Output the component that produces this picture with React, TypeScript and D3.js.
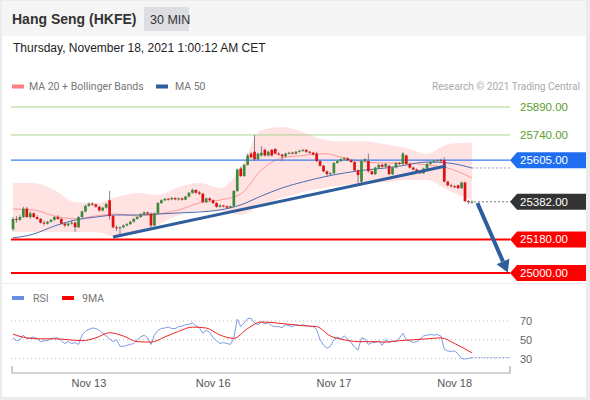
import React from "react";
import * as d3 from "d3";

// [open, high, low, close], 30 min bars
const candles: number[][] = [
  [25235, 25300, 25225, 25290],
  [25290, 25305, 25270, 25285],
  [25285, 25310, 25280, 25300],
  [25300, 25355, 25295, 25345],
  [25345, 25355, 25295, 25300],
  [25300, 25330, 25290, 25320],
  [25320, 25325, 25295, 25300],
  [25300, 25310, 25285, 25290],
  [25290, 25295, 25265, 25270],
  [25270, 25280, 25255, 25265],
  [25265, 25280, 25260, 25275],
  [25275, 25290, 25270, 25285],
  [25285, 25305, 25280, 25300],
  [25300, 25310, 25285, 25290],
  [25290, 25295, 25260, 25265],
  [25265, 25270, 25245, 25255],
  [25255, 25270, 25250, 25265],
  [25265, 25280, 25260, 25270],
  [25270, 25275, 25220, 25245],
  [25245, 25305, 25240, 25300],
  [25300, 25335, 25295, 25330],
  [25330, 25365, 25325, 25360],
  [25360, 25378, 25355, 25372],
  [25372, 25380, 25360, 25368],
  [25368, 25372, 25350, 25355],
  [25355, 25360, 25330, 25335],
  [25335, 25355, 25330, 25350],
  [25350, 25375, 25345, 25370],
  [25390, 25440, 25285, 25305],
  [25305, 25310, 25240, 25245],
  [25245, 25255, 25225, 25240],
  [25240, 25250, 25195, 25245],
  [25245, 25260, 25240, 25255],
  [25255, 25268, 25250, 25262],
  [25262, 25280, 25258, 25275],
  [25275, 25295, 25270, 25290],
  [25290, 25305, 25285, 25300],
  [25300, 25320, 25295, 25315],
  [25315, 25330, 25310, 25325],
  [25325, 25330, 25312, 25318],
  [25318, 25325, 25240, 25255],
  [25255, 25325, 25250, 25320],
  [25320, 25380, 25315, 25375],
  [25375, 25395, 25370, 25390],
  [25390, 25402, 25385, 25398],
  [25398, 25402, 25388, 25395],
  [25395, 25408, 25390, 25402],
  [25402, 25406, 25390, 25395],
  [25395, 25404, 25388, 25400],
  [25400, 25405, 25388, 25393],
  [25393, 25414, 25390, 25410],
  [25410, 25434, 25405, 25430],
  [25430, 25452, 25425, 25445],
  [25445, 25450, 25425, 25430],
  [25432, 25440, 25418, 25425],
  [25425, 25430, 25375, 25380],
  [25380, 25405, 25375, 25400],
  [25400, 25405, 25385, 25390],
  [25390, 25395, 25370, 25375],
  [25375, 25380, 25350, 25355],
  [25355, 25368, 25350, 25362],
  [25362, 25366, 25352, 25358],
  [25358, 25362, 25345, 25350],
  [25350, 25362, 25346, 25358],
  [25358, 25445, 25352, 25440],
  [25440, 25560, 25435, 25555],
  [25560, 25570, 25515, 25520],
  [25520, 25585, 25515, 25580],
  [25580, 25640, 25575, 25630],
  [25640, 25648, 25615, 25620],
  [25650, 25740, 25600, 25610],
  [25610, 25645, 25605, 25640],
  [25630, 25680, 25625, 25645],
  [25660, 25668, 25625, 25630],
  [25630, 25655, 25625, 25650],
  [25660, 25665, 25625, 25630],
  [25665, 25670, 25635, 25640],
  [25640, 25648, 25630, 25635],
  [25635, 25640, 25600, 25625],
  [25625, 25645, 25620, 25640],
  [25640, 25650, 25635, 25645],
  [25645, 25650, 25636, 25640],
  [25640, 25655, 25636, 25650],
  [25650, 25660, 25645, 25655],
  [25655, 25665, 25650, 25660],
  [25660, 25664, 25645, 25650],
  [25650, 25655, 25640, 25645],
  [25645, 25650, 25630, 25635],
  [25640, 25650, 25595, 25600],
  [25600, 25605, 25570, 25575],
  [25575, 25580, 25540, 25545],
  [25545, 25550, 25515, 25530],
  [25530, 25540, 25525, 25535],
  [25535, 25595, 25530, 25590],
  [25590, 25605, 25585, 25600],
  [25600, 25615, 25595, 25610],
  [25610, 25620, 25605, 25615],
  [25615, 25620, 25600, 25605],
  [25605, 25610, 25590, 25595],
  [25595, 25600, 25545, 25550],
  [25550, 25555, 25480, 25525],
  [25490, 25605, 25480, 25600],
  [25600, 25615, 25595, 25610],
  [25600, 25640, 25540, 25545],
  [25545, 25550, 25525, 25530],
  [25530, 25570, 25525, 25565],
  [25565, 25585, 25560, 25580],
  [25580, 25585, 25565, 25570],
  [25570, 25590, 25565, 25585],
  [25575, 25580, 25525, 25530],
  [25530, 25570, 25525, 25565],
  [25565, 25595, 25560, 25590],
  [25590, 25595, 25580, 25585],
  [25585, 25648, 25580, 25640],
  [25630, 25635, 25580, 25585],
  [25585, 25590, 25560, 25565],
  [25565, 25570, 25550, 25555],
  [25555, 25560, 25540, 25545],
  [25545, 25550, 25530, 25535],
  [25535, 25565, 25530, 25560],
  [25560, 25590, 25555, 25585],
  [25585, 25600, 25580, 25595],
  [25595, 25605, 25590, 25600],
  [25600, 25610, 25595, 25605],
  [25605, 25612, 25596, 25602],
  [25605, 25620, 25485, 25490],
  [25490, 25495, 25465, 25470],
  [25470, 25478, 25460, 25465],
  [25465, 25472, 25455, 25462],
  [25470, 25474, 25450, 25455],
  [25455, 25490, 25450, 25485],
  [25485, 25490, 25380, 25385],
  [25385, 25392, 25370, 25380],
  [25380, 25390, 25372, 25382],
];

// indicator readings, sampled at these bar indices
const bandIdx = [0, 6, 12, 18, 24, 30, 36, 42, 48, 54, 60, 66, 72, 78, 84, 90, 96, 102, 108, 114, 120, 126, 133];
const bbUpper = [25482, 25482, 25445, 25380, 25375, 25407, 25429, 25418, 25461, 25482, 25456, 25563, 25767, 25783, 25756, 25715, 25705, 25705, 25690, 25670, 25640, 25690, 25700];
const bbLower = [25220, 25220, 25220, 25220, 25220, 25193, 25214, 25257, 25311, 25332, 25332, 25311, 25365, 25402, 25434, 25456, 25472, 25477, 25488, 25499, 25499, 25445, 25391];
const ma20 = [25343, 25338, 25306, 25290, 25306, 25316, 25306, 25316, 25338, 25375, 25391, 25423, 25552, 25617, 25630, 25640, 25617, 25595, 25590, 25590, 25579, 25563, 25509];
const ma50 = [25188, 25209, 25252, 25284, 25300, 25311, 25311, 25316, 25322, 25327, 25338, 25365, 25413, 25456, 25488, 25515, 25536, 25552, 25563, 25579, 25595, 25590, 25563];

const rsi = [
  52, 49, 50, 55, 51, 52, 53, 51, 48, 49, 49, 51, 52, 52, 49, 46, 48, 46, 47, 45,
  55, 59, 61, 62.5, 62, 60, 57, 54, 51, 48, 50, 43, 43, 44, 45, 46, 50, 53, 55, 52,
  45, 55, 60, 62, 62.5, 63.5, 62, 62, 64, 64.5, 66, 66.5, 68, 65, 63, 57, 60, 58, 52, 49,
  46, 47, 46, 45, 52, 72, 64, 68, 72.5, 73, 68, 66, 69, 67, 68, 65, 64, 64, 63, 66,
  65, 64, 66, 65, 66, 65, 64, 64, 61, 50, 44, 41, 43, 50, 53, 51, 54, 51, 47, 42,
  39, 52, 51, 45, 47, 47, 49, 44, 50, 47, 49, 48, 52, 57, 50, 49, 47, 48, 51, 54,
  55, 55.5, 55, 55.5, 54, 40, 38, 37.5, 38, 35, 30, 29.5, 30, 31,
];
const maIdx = [0, 4, 8, 12, 16, 20, 24, 28, 32, 36, 40, 44, 48, 52, 56, 60, 64, 68, 72, 76, 80, 84, 88, 92, 96, 100, 104, 108, 112, 116, 120, 124, 128, 133];
const rsiMa9 = [56, 52, 51, 51, 50, 49, 52, 57.5, 54, 48, 47.5, 53, 59, 63.5, 62.5, 55, 51.5, 62, 69, 68, 66.5, 65, 64, 54, 50, 48, 48, 47.5, 49, 50, 51, 52, 46, 36];

const levels = [25890, 25740, 25605, 25382, 25180, 25000];
const levelKind = ["res", "res", "pivot", "last", "sup", "sup"];
const rsiTicks = [70, 50, 30];
const dayTicks = [22, 58, 93, 128];
const dayLabels = ["Nov 13", "Nov 16", "Nov 17", "Nov 18"];
// trend line and target arrow as [bar index, price]
const trendLine = [[29, 25193], [125.5, 25574]];
const targetArrow = [[134.6, 25375], [143.4, 25003]];

const UP = "#3c8a3c";
const DOWN = "#e01010";
const FONT = "'Liberation Sans', Arial, sans-serif";

export default function App() {
  const x = d3.scaleLinear().domain([0, 133]).range([13, 471.9]);
  const y = d3.scaleLinear().domain([25000, 25890]).range([273, 107]);
  const ry = d3.scaleLinear().domain([30, 70]).range([358.5, 321]);
  const plotL = 11;
  const plotR = 510;

  const band = d3
    .area<number>()
    .x((d) => x(d))
    .y0((_, i) => y(bbLower[i]))
    .y1((_, i) => y(bbUpper[i]))
    .curve(d3.curveMonotoneX)(bandIdx);
  const lineFrom = (vals: number[]) =>
    d3
      .line<number>()
      .x((d) => x(d))
      .y((_, i) => y(vals[i]))
      .curve(d3.curveMonotoneX)(bandIdx);
  const rsiPath = d3
    .line<number>()
    .x((_, i) => x(i))
    .y((d) => ry(d))(rsi);
  const maPath = d3
    .line<number>()
    .x((d) => x(d))
    .y((_, i) => ry(rsiMa9[i]))
    .curve(d3.curveMonotoneX)(maIdx);

  const last = candles[candles.length - 1];
  const bw = 2.7;

  const [a0, a1] = targetArrow;
  const ax0 = x(a0[0]), ay0 = y(a0[1]), ax1 = x(a1[0]), ay1 = y(a1[1]);
  const ang = Math.atan2(ay1 - ay0, ax1 - ax0);
  const headLen = 12, headW = 7;
  const bx = ax1 - headLen * Math.cos(ang), by = ay1 - headLen * Math.sin(ang);
  const px = -Math.sin(ang), py = Math.cos(ang);

  const labelBox = (v: number, fill: string, key: number) => {
    const cy = y(v);
    const p = `M${plotR},${cy} L${plotR + 7},${cy - 8} L586,${cy - 8} L586,${cy + 8} L${plotR + 7},${cy + 8} Z`;
    return (
      <g key={key}>
        <path d={p} fill={fill} />
        <text x={520} y={cy + 4} fill="#fff" fontSize={11.5} fontFamily={FONT}>
          {v.toFixed(2)}
        </text>
      </g>
    );
  };

  return (
    <svg width={590} height={400} style={{ position: "absolute", left: 0, top: 0 }}>
      <rect x={0} y={0} width={590} height={400} fill="#ececec" />
      <rect x={2} y={1} width={584} height={396} fill="#ffffff" />
      <rect x={2} y={1} width={584} height={35} fill="#f5f5f5" />

      {/* header */}
      <text x={12} y={24} fontSize={14} fontWeight="bold" fill="#333" fontFamily={FONT}>
        Hang Seng (HKFE)
      </text>
      <rect x={144} y={7} width={45} height={24} fill="#dcdee3" />
      <text x={150} y={24} fontSize={12.5} fill="#333" fontFamily={FONT}>
        30 MIN
      </text>
      <text x={13} y={52} fontSize={12} fill="#222" fontFamily={FONT}>
        Thursday, November 18, 2021 1:00:12 AM CET
      </text>

      {/* legend */}
      <rect x={12} y={84.5} width={12} height={4} fill="#ff8080" />
      <text x={29} y={90} fontSize={10.5} fill="#777" fontFamily="Roboto, sans-serif">
        MA 20 + Bollinger Bands
      </text>
      <rect x={156} y={84.5} width={12} height={4} fill="#2f5e9e" />
      <text x={175} y={90} fontSize={10.5} fill="#777" fontFamily="Roboto, sans-serif">
        MA 50
      </text>
      <text x={580} y={90} fontSize={10.1} fill="#aaa" textAnchor="end" fontFamily="Roboto, sans-serif">
        Research © 2021 Trading Central
      </text>

      {/* bands & MAs */}
      <path d={band || ""} fill="#ffd6d6" opacity={0.7} />
      <path d={lineFrom(ma20) || ""} fill="none" stroke="#ff9999" strokeWidth={1} />
      <path d={lineFrom(ma50) || ""} fill="none" stroke="#4a6fb0" strokeWidth={1} />
      <line
        x1={x(133)}
        x2={plotR}
        y1={y(ma50[ma50.length - 1])}
        y2={y(ma50[ma50.length - 1])}
        stroke="#8a9cc0"
        strokeDasharray="2,2"
      />

      {/* level lines */}
      {levels.map((v, i) => {
        const k = levelKind[i];
        if (k === "last") return null;
        const col = k === "res" ? "#a8d48e" : k === "pivot" ? "#3d7cf0" : "#ff0000";
        const sw = k === "sup" ? 2 : k === "pivot" ? 1.3 : 1;
        return <line key={i} x1={plotL} x2={plotR} y1={y(v)} y2={y(v)} stroke={col} strokeWidth={sw} />;
      })}
      <line x1={x(133) + 2} x2={plotR} y1={y(last[3])} y2={y(last[3])} stroke="#777" strokeDasharray="2,2" />

      {/* candles */}
      {candles.map((c, i) => {
        const [o, h, l, cl] = c;
        const col = cl >= o ? UP : DOWN;
        const top = y(Math.max(o, cl));
        const bot = y(Math.min(o, cl));
        return (
          <g key={i}>
            <line x1={x(i)} x2={x(i)} y1={y(h)} y2={y(l)} stroke="#666" strokeWidth={0.8} />
            <rect x={x(i) - bw / 2} y={top} width={bw} height={Math.max(1, bot - top)} fill={col} />
          </g>
        );
      })}

      {/* trend line */}
      <line
        x1={x(trendLine[0][0])}
        y1={y(trendLine[0][1])}
        x2={x(trendLine[1][0])}
        y2={y(trendLine[1][1])}
        stroke="#2f5e9e"
        strokeWidth={3}
      />
      {/* target arrow */}
      <line x1={ax0} y1={ay0} x2={bx} y2={by} stroke="#2f5e9e" strokeWidth={4} />
      <path
        d={`M${ax1},${ay1} L${bx + px * headW},${by + py * headW} L${bx - px * headW},${by - py * headW} Z`}
        fill="#2f5e9e"
      />

      {/* level labels */}
      {levels.map((v, i) => {
        const k = levelKind[i];
        if (k === "res")
          return (
            <text key={i} x={520} y={y(v) + 4} fill="#5a9e2a" fontSize={11.5} fontFamily={FONT}>
              {v.toFixed(2)}
            </text>
          );
        const fill = k === "pivot" ? "#1f6ef0" : k === "last" ? "#333333" : "#ff0000";
        return labelBox(v, fill, i);
      })}

      <line x1={2} x2={586} y1={283.5} y2={283.5} stroke="#eeeeee" />

      {/* RSI panel */}
      <rect x={12} y={296} width={12} height={4} fill="#6a8ee8" />
      <text x={33} y={302} fontSize={10.5} fill="#777" fontFamily="Roboto, sans-serif">
        RSI
      </text>
      <rect x={62} y={296} width={12} height={4} fill="#ff0000" />
      <text x={82} y={302} fontSize={10.5} fill="#777" fontFamily="Roboto, sans-serif">
        9MA
      </text>
      {rsiTicks.map((t) => (
        <g key={t}>
          <line x1={plotL} x2={plotR} y1={ry(t)} y2={ry(t)} stroke="#bbb" strokeDasharray="1,3" />
          <text x={520} y={ry(t) + 4} fontSize={11} fill="#666" fontFamily={FONT}>
            {t}
          </text>
        </g>
      ))}
      <path d={rsiPath || ""} fill="none" stroke="#7c9be6" strokeWidth={1} />
      <line
        x1={x(133)}
        x2={plotR}
        y1={ry(rsi[rsi.length - 1])}
        y2={ry(rsi[rsi.length - 1])}
        stroke="#9db3ee"
        strokeDasharray="2,1"
      />
      <path d={maPath || ""} fill="none" stroke="#ee2222" strokeWidth={1} />

      {/* time axis */}
      <path d={`M${plotL + 1},366 V373 H${plotR} V366`} fill="none" stroke="#aaa" strokeWidth={1.2} />
      {dayTicks.map((d, i) => (
        <text key={i} x={x(d)} y={387} fontSize={11} fill="#555" textAnchor="middle" fontFamily={FONT}>
          {dayLabels[i]}
        </text>
      ))}
    </svg>
  );
}
